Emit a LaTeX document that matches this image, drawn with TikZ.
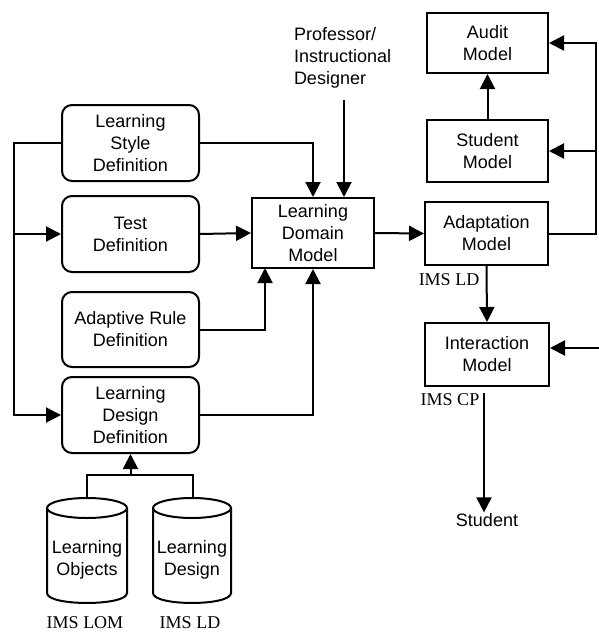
\documentclass[tikz,border=0pt]{standalone}
\usepackage{fontspec}
\setmainfont{Liberation Serif}
\newfontfamily\arialf{Liberation Sans}
\usetikzlibrary{arrows.meta}
\begin{document}
\begin{tikzpicture}[x=1pt,y=-1pt,line width=2pt,
  >={Triangle[length=15pt,width=15pt]},
  lbl/.style={font=\arialf\fontsize{18}{22}\selectfont,align=center,inner sep=0pt},
  serifl/.style={font=\fontsize{18}{22}\selectfont,inner sep=0pt},
  rbox/.style={lbl,draw,rounded corners=10pt,minimum width=137pt},
  sbox/.style={lbl,draw}]
\useasboundingbox[fill=white] (0,0) rectangle (598,635);
% left rounded boxes
\node[rbox,minimum height=76pt] (lsd) at (130.5,143) {Learning\\Style\\Definition};
\node[rbox,minimum height=76pt] (test) at (130.5,234) {Test\\Definition};
\node[rbox,minimum height=75pt] (ard) at (130.5,329.5) {Adaptive Rule\\Definition};
\node[rbox,minimum height=76pt] (ldd) at (130.5,415) {Learning\\Design\\Definition};
% centre
\node[sbox,minimum width=122pt,minimum height=70pt] (ldm) at (313,233) {Learning\\Domain\\Model};
\node[lbl,align=left,anchor=west] (prof) at (293,58) {Professor/\\Instructional\\Designer};
% right boxes
\node[sbox,minimum width=121pt,minimum height=60pt] (audit) at (487.5,43) {Audit\\Model};
\node[sbox,minimum width=121pt,minimum height=62pt] (smod) at (487.5,151) {Student\\Model};
\node[sbox,minimum width=123pt,minimum height=63pt] (adapt) at (486.5,233.5) {Adaptation\\Model};
\node[sbox,minimum width=124pt,minimum height=63pt] (inter) at (487,354.5) {Interaction\\Model};
\node[lbl] (stu) at (487,520) {Student};
% serif labels
\node[serifl] (imsld1) at (449,280) {IMS LD};
\node[serifl] (imscp) at (450,400) {IMS CP};
\node[serifl] (imslom) at (85,623) {IMS LOM};
\node[serifl] (imsld2) at (190,623) {IMS LD};
% cylinders
\draw (47,508) -- (47,593) .. controls (47,606.3) and (127,606.3) .. (127,593) -- (127,508);
\draw (87,508) ellipse [x radius=40, y radius=10];
\draw (153,508) -- (153,593) .. controls (153,606.3) and (231,606.3) .. (231,593) -- (231,508);
\draw (192,508) ellipse [x radius=39, y radius=10];
\node[lbl] (lo) at (87,560) {Learning\\Objects};
\node[lbl] (ld) at (192,560) {Learning\\Design};
% coordinates
\coordinate (L1) at (14,143);
\coordinate (C1) at (87,498);
\coordinate (C2) at (193,498);
\coordinate (J) at (130.5,475);
\coordinate (P) at (344,100);
\coordinate (A1) at (265,268);
\coordinate (R) at (596,233.5);
\coordinate (R2) at (599,348);
\coordinate (I1) at (484,393);
% connectors
\draw[->] (lsd.west) -- (L1) |- (ldd.west);
\draw[->] (L1 |- test.west) -- (test.west);
\draw[->] (lsd.east) -| (ldm.north);
\draw[->] (P) -- (P |- ldm.north);
\draw[->] (test.east) -- (ldm.west);
\draw[->] (ard.east) -| (A1);
\draw[->] (ldd.east) -| (ldm.south);
\draw[->] (ldm.east) -- (adapt.west);
\draw[->] (adapt.east) -- (R) |- (audit.east);
\draw[->] (R |- smod.east) -- (smod.east);
\draw[->] (smod.north) -- (audit.south);
\draw[->] (adapt.south) -- (inter.north);
\draw[->] (R2) -- (R2 -| inter.east);
\draw[->] (I1) -- (I1 |- stu.north);
\draw (C1) -- (C1 |- J) -- (C2 |- J) -- (C2);
\draw[->] (J) -- (ldd.south);
\end{tikzpicture}
\end{document}
